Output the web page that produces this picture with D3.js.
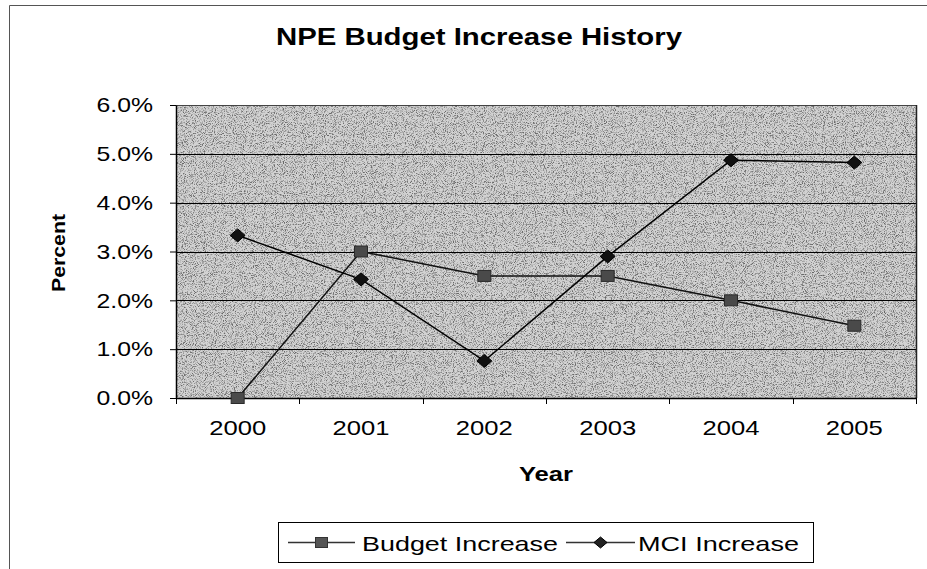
<!DOCTYPE html>
<html>
<head>
<meta charset="utf-8">
<script src="https://cdn.jsdelivr.net/npm/d3@7"></script>
<style>
  html, body { margin: 0; padding: 0; background: #fff; }
  svg { display: block; font-family: "Liberation Sans", Arial, sans-serif; }
</style>
</head>
<body>
<svg id="chart" width="927" height="569"></svg>
<script>
const years = ["2000", "2001", "2002", "2003", "2004", "2005"];
const budgetIncrease = [0.000, 0.030, 0.025, 0.025, 0.020, 0.0148];
const mciIncrease = [0.0333, 0.0243, 0.0076, 0.0290, 0.0487, 0.0482];
const yTicks = [0, 0.01, 0.02, 0.03, 0.04, 0.05, 0.06];
const seriesNames = ["Budget Increase", "MCI Increase"];
const titleText = "NPE Budget Increase History";
const xTitle = "Year";
const yTitle = "Percent";

const STRETCH = 1.22; // the source picture is stretched horizontally
const svg = d3.select("#chart");
const plot = { left: 176, right: 916, top: 105, bottom: 398 };

const x = d3.scaleBand().domain(years).range([plot.left, plot.right]);
const y = d3.scaleLinear().domain([0, 0.06]).range([plot.bottom, plot.top]);
const cx = d => x(d) + x.bandwidth() / 2;

function widen(sel, k) {
  sel.each(function () {
    const w = this.getComputedTextLength();
    d3.select(this).attr("textLength", w * k).attr("lengthAdjust", "spacingAndGlyphs");
  });
}

// defs: noise texture for plot background
const defs = svg.append("defs");
const f = defs.append("filter").attr("id", "noise")
  .attr("x", 0).attr("y", 0).attr("width", "100%").attr("height", "100%");
f.append("feTurbulence").attr("type", "fractalNoise").attr("baseFrequency", 1.1)
  .attr("numOctaves", 2).attr("seed", 7).attr("result", "t");
f.append("feColorMatrix").attr("in", "t").attr("type", "matrix")
  .attr("values", "0 0 0 0 0  0 0 0 0 0  0 0 0 0 0  0 0 0 -3.4 1.8");

// outer chart border
svg.append("path")
  .attr("d", `M9.5,569 V5.5 H927`)
  .attr("fill", "none").attr("stroke", "#555").attr("stroke-width", 1);

// plot background
svg.append("rect")
  .attr("x", plot.left).attr("y", plot.top)
  .attr("width", plot.right - plot.left).attr("height", plot.bottom - plot.top)
  .attr("fill", "#d2d2d2");
svg.append("rect")
  .attr("x", plot.left).attr("y", plot.top)
  .attr("width", plot.right - plot.left).attr("height", plot.bottom - plot.top)
  .attr("fill", "#000").attr("filter", "url(#noise)").attr("opacity", 0.5);

// gridlines
svg.append("g").selectAll("line").data(yTicks.filter(t => t > 0))
  .join("line")
  .attr("x1", plot.left).attr("x2", plot.right)
  .attr("y1", d => Math.round(y(d)) + 0.5).attr("y2", d => Math.round(y(d)) + 0.5)
  .attr("stroke", d => d === 0.06 ? "#444" : "#000").attr("stroke-width", 1);

// right border of plot
svg.append("line")
  .attr("x1", plot.right + 0.5).attr("x2", plot.right + 0.5)
  .attr("y1", plot.top).attr("y2", plot.bottom)
  .attr("stroke", "#222").attr("stroke-width", 1.5);

// y axis
const yAxis = svg.append("g")
  .attr("transform", `translate(${plot.left},0)`)
  .call(d3.axisLeft(y).tickValues(yTicks).tickFormat(d3.format(".1%"))
    .tickSize(6).tickSizeOuter(0).tickPadding(17));
yAxis.select(".domain").attr("stroke", "#000").attr("stroke-width", 1.5);
yAxis.selectAll(".tick line").attr("stroke", "#000");
yAxis.selectAll("text").attr("font-size", 21).attr("fill", "#000").call(widen, 1.18);

// x axis (labels centered, ticks on boundaries)
const xAxis = svg.append("g")
  .attr("transform", `translate(0,${plot.bottom})`)
  .call(d3.axisBottom(x).tickSize(0).tickSizeOuter(0).tickPadding(22));
xAxis.select(".domain").attr("stroke", "#000").attr("stroke-width", 1.5);
xAxis.selectAll("text").attr("font-size", 21).attr("fill", "#000").call(widen, STRETCH);
const bounds = years.map(d => x(d)).concat([plot.right]);
svg.append("g").selectAll("line").data(bounds).join("line")
  .attr("x1", d => Math.round(d) + 0.5).attr("x2", d => Math.round(d) + 0.5)
  .attr("y1", plot.bottom).attr("y2", plot.bottom + 6)
  .attr("stroke", "#000").attr("stroke-width", 1);

// lines
const line = d3.line().x((d, i) => cx(years[i])).y(d => y(d));
svg.append("path").datum(budgetIncrease).attr("d", line)
  .attr("fill", "none").attr("stroke", "#111").attr("stroke-width", 1.5);
svg.append("path").datum(mciIncrease).attr("d", line)
  .attr("fill", "none").attr("stroke", "#000").attr("stroke-width", 1.5);

// markers
const sqW = 13, sqH = 11;
svg.append("g").selectAll("rect").data(budgetIncrease).join("rect")
  .attr("x", (d, i) => cx(years[i]) - sqW / 2).attr("y", d => y(d) - sqH / 2)
  .attr("width", sqW).attr("height", sqH)
  .attr("fill", "#4a4a4a").attr("stroke", "#2a2a2a").attr("stroke-width", 1);
const dmx = 7.5, dmy = 6.5;
svg.append("g").selectAll("path").data(mciIncrease).join("path")
  .attr("d", (d, i) => {
    const px = cx(years[i]), py = y(d);
    return `M${px},${py - dmy} L${px + dmx},${py} L${px},${py + dmy} L${px - dmx},${py} Z`;
  })
  .attr("fill", "#111").attr("stroke", "#000").attr("stroke-width", 1);

// title
svg.append("text").attr("x", 479).attr("y", 45).attr("text-anchor", "middle")
  .attr("font-size", 24).attr("font-weight", "bold").attr("fill", "#000")
  .attr("textLength", 406).attr("lengthAdjust", "spacingAndGlyphs")
  .text(titleText);

// axis titles
svg.append("text").attr("x", (plot.left + plot.right) / 2).attr("y", 481)
  .attr("text-anchor", "middle").attr("font-size", 21).attr("font-weight", "bold")
  .attr("fill", "#000").text(xTitle).call(widen, STRETCH);
svg.append("text").attr("transform", `translate(65,253) rotate(-90)`)
  .attr("text-anchor", "middle").attr("font-size", 18).attr("font-weight", "bold")
  .attr("textLength", 78).attr("lengthAdjust", "spacingAndGlyphs")
  .attr("fill", "#000").text(yTitle);

// legend
const lg = svg.append("g");
lg.append("rect").attr("x", 278.5).attr("y", 522.5).attr("width", 535).attr("height", 40)
  .attr("fill", "#fff").attr("stroke", "#000").attr("stroke-width", 1);
const legendItems = [
  { name: seriesNames[0], x0: 288, x1: 355, tx: 362, tw: 196, type: "square" },
  { name: seriesNames[1], x0: 566, x1: 635, tx: 638, tw: 161, type: "diamond" }
];
const ly = 542.5;
legendItems.forEach(it => {
  lg.append("line").attr("x1", it.x0).attr("x2", it.x1).attr("y1", ly).attr("y2", ly)
    .attr("stroke", "#333").attr("stroke-width", 1.5);
  const mx = (it.x0 + it.x1) / 2;
  if (it.type === "square") {
    lg.append("rect").attr("x", mx - 6).attr("y", ly - 5).attr("width", 12).attr("height", 10)
      .attr("fill", "#555").attr("stroke", "#333");
  } else {
    lg.append("path").attr("d", `M${mx},${ly - 5.5} L${mx + 6.5},${ly} L${mx},${ly + 5.5} L${mx - 6.5},${ly} Z`)
      .attr("fill", "#222").attr("stroke", "#000");
  }
  lg.append("text").attr("x", it.tx).attr("y", ly + 8).attr("font-size", 21)
    .attr("textLength", it.tw).attr("lengthAdjust", "spacingAndGlyphs")
    .attr("fill", "#000").text(it.name);
});
</script>
</body>
</html>
